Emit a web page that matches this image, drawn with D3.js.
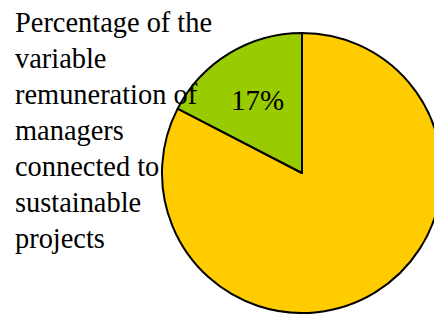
<!DOCTYPE html>
<html><head><meta charset="utf-8">
<script src="https://cdn.jsdelivr.net/npm/d3@7"></script>
<style>html,body{margin:0;padding:0;background:#fff;}</style>
</head><body>
<svg id="chart" width="434" height="314"></svg>
<script>
const categories = ["Other", "Connected to sustainable projects"];
const values = [82.6, 17.4];
const colors = ["#FFCC00", "#99CC00"];
const showLabel = [false, true];
const titleLines = ["Percentage of the", "variable", "remuneration of", "managers", "connected to", "sustainable", "projects"];

const svg = d3.select("#chart");
const cx = 302, cy = 173, r = 140;
const pie = d3.pie().sort(null).value(d => d.v);
const arcs = pie(values.map((v, i) => ({v, c: colors[i], show: showLabel[i], name: categories[i]})));
const arc = d3.arc().innerRadius(0).outerRadius(r);
const labelArc = d3.arc().innerRadius(r * 0.61).outerRadius(r * 0.61);
const g = svg.append("g").attr("transform", `translate(${cx},${cy})`);
g.selectAll("path").data(arcs).join("path")
  .attr("d", arc)
  .attr("fill", d => d.data.c)
  .attr("stroke", "#000")
  .attr("stroke-width", 2)
  .attr("stroke-linejoin", "round");
g.selectAll("text").data(arcs.filter(d => d.data.show)).join("text")
  .attr("transform", d => `translate(${labelArc.centroid(d)})`)
  .attr("text-anchor", "middle")
  .attr("dy", "0.35em")
  .attr("font-family", "'Liberation Serif', 'Times New Roman', serif")
  .attr("font-size", 29)
  .attr("fill", "#000")
  .text(d => d3.format(".0f")(d.data.v) + "%");

svg.append("g").selectAll("text").data(titleLines).join("text")
  .attr("x", 15)
  .attr("y", (d, i) => 32 + i * 36)
  .attr("font-family", "'Liberation Serif', 'Times New Roman', serif")
  .attr("font-size", 28.4)
  .attr("fill", "#000")
  .text(d => d);
</script>
</body></html>
